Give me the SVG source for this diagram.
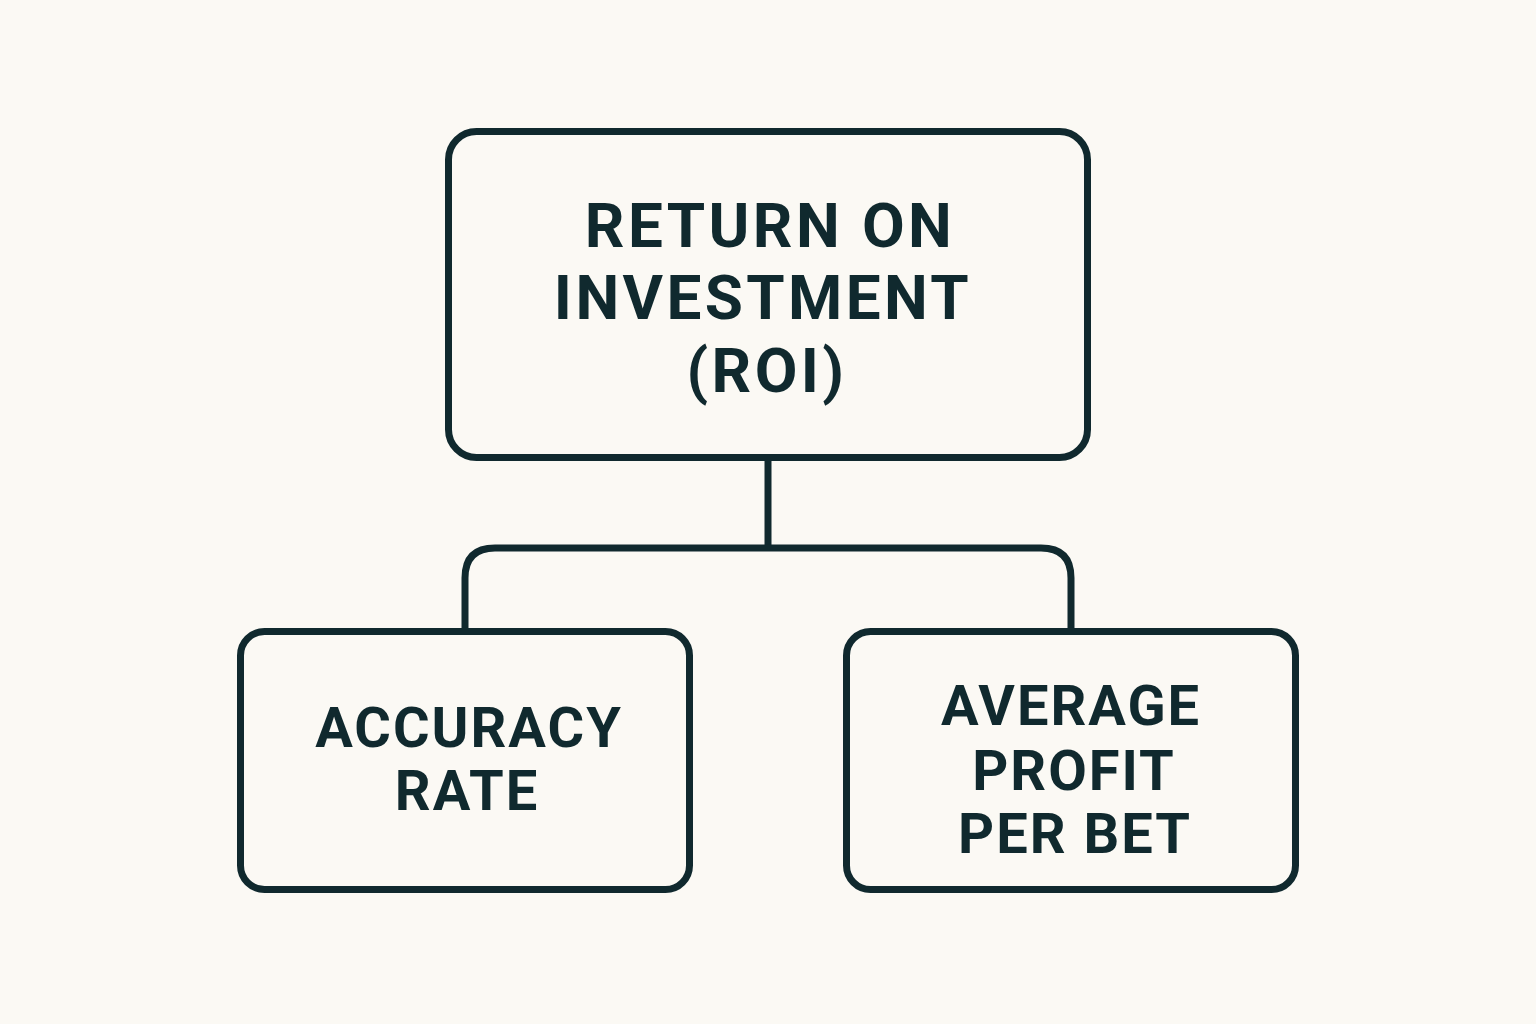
<svg xmlns="http://www.w3.org/2000/svg" width="1536" height="1024" viewBox="0 0 1536 1024">
<style>
.box{fill:none;stroke:#10292e;stroke-width:7}
.conn{fill:none;stroke:#10292e;stroke-width:7;stroke-linejoin:round}
.t{font-family:Roboto,"Liberation Sans",Arial,sans-serif;font-weight:bold;fill:#10292e;text-anchor:middle}
.big{font-size:62px;letter-spacing:3.4px}
.small{font-size:56px;letter-spacing:2px}
</style>
<rect width="1536" height="1024" fill="#fbf9f4"/>
<g id="connectors">
<path class="conn" d="M768,458 V548"/>
<path class="conn" d="M465,630 V578 Q465,548 495,548 H1041 Q1071,548 1071,578 V630"/>
</g>
<g id="roi">
<rect class="box" x="448.5" y="131.5" width="639" height="326" rx="28"/>
<text class="t big" x="770" y="246.5">RETURN ON</text>
<text class="t big" x="763" y="318.5">INVESTMENT</text>
<text class="t big" x="767" y="391.5">(ROI)</text>
</g>
<g id="accuracy">
<rect class="box" x="240.5" y="631.5" width="449" height="258" rx="24"/>
<text class="t small" x="469" y="747">ACCURACY</text>
<text class="t small" x="467" y="810">RATE</text>
</g>
<g id="profit">
<rect class="box" x="846.5" y="631.5" width="449" height="258" rx="24"/>
<text class="t small" x="1071" y="725">AVERAGE</text>
<text class="t small" x="1074" y="790">PROFIT</text>
<text class="t small" x="1075" y="853">PER BET</text>
</g>
</svg>
